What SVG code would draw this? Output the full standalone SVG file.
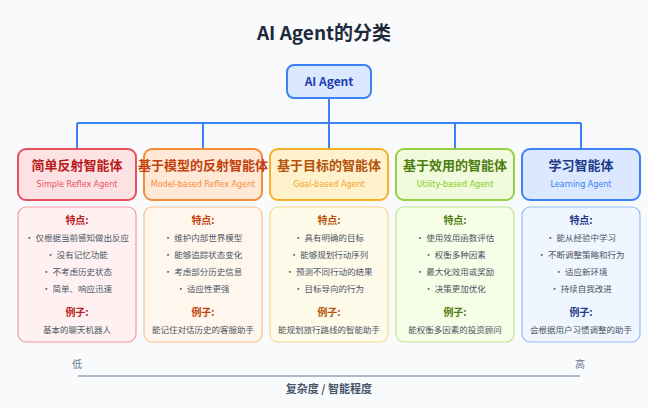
<svg xmlns="http://www.w3.org/2000/svg" width="648" height="408" viewBox="0 0 648 408">
<style>
text{font-family:"Noto Sans CJK SC","Noto Sans",sans-serif;text-anchor:middle}
.t{font-size:13px;font-weight:bold}
.s{font-size:8px;font-family:"DejaVu Sans",sans-serif}
.h{font-size:10px;font-weight:bold}
.i{font-size:8.5px;fill:#4b5563}
.hb{stroke-width:2}
.db{stroke-width:1.2}
</style>
<rect width="648" height="408" fill="#f8fafc"/>
<text x="324" y="40" style="font-size:19px;font-weight:bold" fill="#1e293b">AI Agent的分类</text>
<g id="connectors" fill="none" stroke="#3b82f6" stroke-width="2">
<path d="M329 98V123M77 123H581M77 123V149M203 123V149M329 123V149M455 123V149M581 123V149"/>
</g>
<g id="root"><rect x="287" y="65" width="84" height="33" rx="7" fill="#dbe8ff" stroke="#3b82f6" stroke-width="2"/><text x="329" y="86" style="font-size:12px;font-weight:bold" fill="#1e40af">AI Agent</text></g>
<g id="n1">
<rect x="18" y="149" width="118" height="51" rx="8" fill="#fde2e4" stroke="#e8505d" class="hb"/>
<text class="t" x="77" y="170" fill="#b91c1c">简单反射智能体</text><text class="s" x="77" y="187" fill="#e9505e">Simple Reflex Agent</text>
<rect x="18" y="207" width="118" height="135" rx="8" fill="#fff1f2" stroke="#f19aa2" class="db"/>
<text class="h" x="77" y="224" fill="#b91c1c">特点:</text>
<text class="i" x="77" y="241">• 仅根据当前感知做出反应</text><text class="i" x="77" y="258">• 没有记忆功能</text><text class="i" x="77" y="275">• 不考虑历史状态</text><text class="i" x="77" y="292">• 简单、响应迅速</text>
<text class="h" x="77" y="316" fill="#b91c1c">例子:</text><text class="i" x="77" y="333">基本的聊天机器人</text>
</g>
<g id="n2">
<rect x="144" y="149" width="118" height="51" rx="8" fill="#ffe9d6" stroke="#f28c38" class="hb"/>
<text class="t" x="203" y="170" fill="#c2410c">基于模型的反射智能体</text><text class="s" x="203" y="187" fill="#f5893b">Model-based Reflex Agent</text>
<rect x="144" y="207" width="118" height="135" rx="8" fill="#fff7ed" stroke="#f9c08f" class="db"/>
<text class="h" x="203" y="224" fill="#c2410c">特点:</text>
<text class="i" x="203" y="241">• 维护内部世界模型</text><text class="i" x="203" y="258">• 能够追踪状态变化</text><text class="i" x="203" y="275">• 考虑部分历史信息</text><text class="i" x="203" y="292">• 适应性更强</text>
<text class="h" x="203" y="316" fill="#c2410c">例子:</text><text class="i" x="203" y="333">能记住对话历史的客服助手</text>
</g>
<g id="n3">
<rect x="270" y="149" width="118" height="51" rx="8" fill="#fff1cc" stroke="#f5b027" class="hb"/>
<text class="t" x="329" y="170" fill="#b45309">基于目标的智能体</text><text class="s" x="329" y="187" fill="#f0a21e">Goal-based Agent</text>
<rect x="270" y="207" width="118" height="135" rx="8" fill="#fffbeb" stroke="#f9d88a" class="db"/>
<text class="h" x="329" y="224" fill="#b45309">特点:</text>
<text class="i" x="329" y="241">• 具有明确的目标</text><text class="i" x="329" y="258">• 能够规划行动序列</text><text class="i" x="329" y="275">• 预测不同行动的结果</text><text class="i" x="329" y="292">• 目标导向的行为</text>
<text class="h" x="329" y="316" fill="#b45309">例子:</text><text class="i" x="329" y="333">能规划旅行路线的智能助手</text>
</g>
<g id="n4">
<rect x="396" y="149" width="118" height="51" rx="8" fill="#effbdc" stroke="#93d243" class="hb"/>
<text class="t" x="455" y="170" fill="#4d7c0f">基于效用的智能体</text><text class="s" x="455" y="187" fill="#84cc16">Utility-based Agent</text>
<rect x="396" y="207" width="118" height="135" rx="8" fill="#f7fee7" stroke="#bfe592" class="db"/>
<text class="h" x="455" y="224" fill="#4d7c0f">特点:</text>
<text class="i" x="455" y="241">• 使用效用函数评估</text><text class="i" x="455" y="258">• 权衡多种因素</text><text class="i" x="455" y="275">• 最大化效用或奖励</text><text class="i" x="455" y="292">• 决策更加优化</text>
<text class="h" x="455" y="316" fill="#4d7c0f">例子:</text><text class="i" x="455" y="333">能权衡多因素的投资顾问</text>
</g>
<g id="n5">
<rect x="522" y="149" width="118" height="51" rx="8" fill="#dbe8ff" stroke="#3b82f6" class="hb"/>
<text class="t" x="581" y="170" fill="#1e3a8a">学习智能体</text><text class="s" x="581" y="187" fill="#3b82f6">Learning Agent</text>
<rect x="522" y="207" width="118" height="135" rx="8" fill="#eff6ff" stroke="#93bbf8" class="db"/>
<text class="h" x="581" y="224" fill="#1e3a8a">特点:</text>
<text class="i" x="581" y="241">• 能从经验中学习</text><text class="i" x="581" y="258">• 不断调整策略和行为</text><text class="i" x="581" y="275">• 适应新环境</text><text class="i" x="581" y="292">• 持续自我改进</text>
<text class="h" x="581" y="316" fill="#1e3a8a">例子:</text><text class="i" x="581" y="333">会根据用户习惯调整的助手</text>
</g>
<g id="axis">
<line x1="78" y1="376" x2="580" y2="376" stroke="#94a3b8" stroke-width="1.5"/>
<text x="77" y="368" style="font-size:10px" fill="#64748b">低</text>
<text x="580" y="368" style="font-size:10px" fill="#64748b">高</text>
<text x="329" y="393" style="font-size:11px;font-weight:bold" fill="#475569">复杂度 / 智能程度</text>
</g>
</svg>
